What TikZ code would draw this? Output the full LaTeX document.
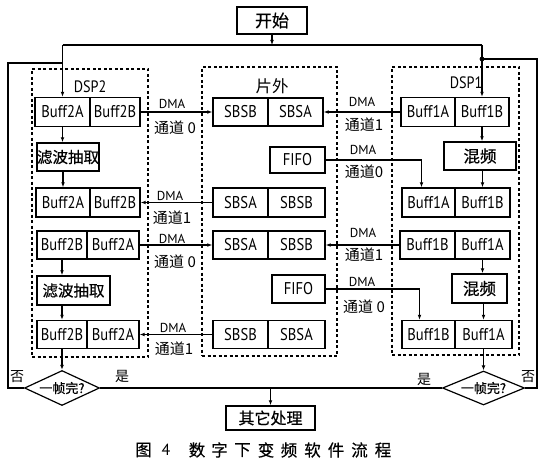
\documentclass[tikz,border=0pt]{standalone}
\usepackage{fontspec}
\setmainfont{PT Sans}
\newfontfamily\cjk{Noto Sans CJK SC}
\newfontfamily\cjkb[FakeBold=0.6]{Noto Sans CJK SC}
\newfontfamily\cjkc[FakeBold=0.4]{Noto Sans CJK SC}
\newfontfamily\nar[FakeStretch=0.86]{PT Sans}
\usetikzlibrary{arrows.meta,shapes.geometric}
\begin{document}
\begin{tikzpicture}[x=1pt,y=-1pt,
  cell/.style={draw,line width=1.4pt,inner sep=0pt,font=\nar\fontsize{17}{17}\selectfont},
  proc/.style={draw,line width=1.5pt,inner sep=0pt,font=\cjkb\fontsize{15.5}{15.5}\selectfont},
  grp/.style={draw,dash pattern=on 3pt off 2.5pt,line width=1.1pt,inner sep=0pt},
  arr/.style={line width=1.2pt,-{Latex[length=5pt,width=3.8pt]}},
  ln/.style={line width=1.2pt},
  dma/.style={font=\fontsize{13}{13}\selectfont,inner sep=0pt},
  ch/.style={font=\cjk\fontsize{15}{15}\selectfont,inner sep=0pt},
  lbl/.style={font=\cjk\fontsize{14}{14}\selectfont,inner sep=0pt},
  grpl/.style={font=\nar\fontsize{16.5}{16.5}\selectfont,inner sep=0pt},
  dec/.style={diamond,draw,line width=1.2pt,inner sep=0pt,aspect=2.1,font=\cjkb\fontsize{13}{13}\selectfont},
  captxt/.style={font=\cjkc\fontsize{16.5}{16.5}\selectfont,inner sep=0pt}
]
\useasboundingbox[fill=white] (0,0) rectangle (545,468);

% groups
\node[grp,minimum width=116pt,minimum height=288pt] (G2) at (90,213) {};
\node[grp,minimum width=135pt,minimum height=289pt] (GO) at (269.5,211.5) {};
\node[grp,minimum width=127pt,minimum height=288pt] (G1) at (455.5,211) {};
\node[grpl] (G2l) at (90,87) {DSP2};
\node[lbl,font=\cjk\fontsize{16.5}{16.5}\selectfont] (GOl) at (272,86) {片外};
\node[grpl] (G1l) at (466,83) {DSP1};

% start / end
\node[proc,minimum width=70pt,minimum height=27pt,font=\cjkb\fontsize{17}{17}\selectfont] (S) at (272,20.5) {开始};
\node[proc,minimum width=89pt,minimum height=24pt,font=\cjkb\fontsize{16}{16}\selectfont] (E) at (270.5,418) {其它处理};

% left column
\node[cell,minimum width=55pt,minimum height=29pt] (L1a) at (62.5,112) {Buff2A};
\node[cell,minimum width=50pt,minimum height=29pt] (L1b) at (115,112) {Buff2B};
\node[proc,minimum width=62pt,minimum height=28pt] (LF1) at (68,157) {滤波抽取};
\node[cell,minimum width=54pt,minimum height=29pt] (L2a) at (63,202.5) {Buff2A};
\node[cell,minimum width=50pt,minimum height=29pt] (L2b) at (115,202.5) {Buff2B};
\node[cell,minimum width=50pt,minimum height=28pt] (L3a) at (62,245) {Buff2B};
\node[cell,minimum width=52pt,minimum height=28pt] (L3b) at (113,245) {Buff2A};
\node[proc,minimum width=73pt,minimum height=29pt] (LF2) at (73.5,290.5) {滤波抽取};
\node[cell,minimum width=50pt,minimum height=28pt] (L4a) at (62,334.5) {Buff2B};
\node[cell,minimum width=52pt,minimum height=28pt] (L4b) at (113,334.5) {Buff2A};

% middle column
\node[cell,minimum width=55pt,minimum height=28pt] (M1a) at (240.5,112) {SBSB};
\node[cell,minimum width=55pt,minimum height=28pt] (M1b) at (295.5,112) {SBSA};
\node[cell,minimum width=55pt,minimum height=26pt] (MF1) at (297.5,160) {FIFO};
\node[cell,minimum width=55pt,minimum height=29pt] (M2a) at (240.5,202.5) {SBSA};
\node[cell,minimum width=57pt,minimum height=29pt] (M2b) at (296.5,202.5) {SBSB};
\node[cell,minimum width=55pt,minimum height=28pt] (M3a) at (240.5,245) {SBSA};
\node[cell,minimum width=57pt,minimum height=28pt] (M3b) at (296.5,245) {SBSB};
\node[cell,minimum width=53pt,minimum height=28pt] (MF2) at (298.5,289) {FIFO};
\node[cell,minimum width=55pt,minimum height=28pt] (M4a) at (240.5,334.5) {SBSB};
\node[cell,minimum width=57pt,minimum height=28pt] (M4b) at (296.5,334.5) {SBSA};

% right column
\node[cell,minimum width=54pt,minimum height=29pt] (R1a) at (428,112) {Buff1A};
\node[cell,minimum width=54pt,minimum height=29pt] (R1b) at (482,112) {Buff1B};
\node[proc,minimum width=72pt,minimum height=28pt,font=\cjkb\fontsize{16.5}{16.5}\selectfont] (RM1) at (480,156) {混频};
\node[cell,minimum width=53pt,minimum height=29pt] (R2a) at (428.5,202.5) {Buff1A};
\node[cell,minimum width=55pt,minimum height=29pt] (R2b) at (482.5,202.5) {Buff1B};
\node[cell,minimum width=55pt,minimum height=28pt] (R3a) at (427.5,245) {Buff1B};
\node[cell,minimum width=55pt,minimum height=28pt] (R3b) at (482.5,245) {Buff1A};
\node[proc,minimum width=55pt,minimum height=29pt,font=\cjkb\fontsize{16.5}{16.5}\selectfont] (RM2) at (479.5,288.5) {混频};
\node[cell,minimum width=53pt,minimum height=28pt] (R4a) at (428.5,334.5) {Buff1B};
\node[cell,minimum width=57pt,minimum height=28pt] (R4b) at (483.5,334.5) {Buff1A};

% decisions
\node[dec,minimum width=75pt,minimum height=35pt] (LD) at (62,388) {一帧完?};
\node[dec,minimum width=82pt,minimum height=34pt] (RD) at (483.5,388) {一帧完?};

% top distribution
\coordinate (topL) at (L1a.north |- 0,45);
\coordinate (topR) at (R1b.north |- 0,45);
\draw[ln] (topL) -- (topR);
\draw[arr] (S.south) -- (S.south |- topL);
\draw[arr] (topL) -- (L1a.north);
\draw[arr] (topR) -- (R1b.north);

% loops
\coordinate (jL) at (L1a.north |- 0,63);
\coordinate (jR) at (R1b.north |- 0,59);
\draw[ln] (LD.west) -- (8,388) -- (8,63) -- (jL);
\draw[ln] (RD.east) -- (537,388) -- (537,59) -- (jR);
\fill (jR) circle (2.4pt);

% bottom
\draw[ln] (LD.east) -- (RD.west);
\coordinate (jE) at (E.north |- LD.east);
\draw[arr] (jE) -- (E.north);
\node[lbl] (nL) at (17,377) {否};
\node[lbl] (yL) at (122,376) {是};
\node[lbl] (yR) at (424,379) {是};
\node[lbl] (nR) at (528,377) {否};

% left vertical flow
\draw[arr] (L1a.south) -- (L1a.south |- LF1.north);
\draw[arr] (L2a.north |- LF1.south) -- (L2a.north);
\draw[arr] (L3a.south) -- (L3a.south |- LF2.north);
\draw[arr] (L4a.north |- LF2.south) -- (L4a.north);
\draw[arr] (L4a.south) -- (LD.north);

% right vertical flow
\draw[arr] (R1b.south) -- (R1b.south |- RM1.north);
\draw[arr] (R2b.north |- RM1.south) -- (R2b.north);
\draw[arr] (R3b.south) -- (R3b.south |- RM2.north);
\draw[arr] (R4b.north |- RM2.south) -- (R4b.north);
\draw[arr] (R4b.south) -- (RD.north);

% DMA transfers
\draw[arr] (L1b.east) -- (M1a.west);
\draw[arr] (M2a.west) -- (L2b.east);
\draw[arr] (L3b.east) -- (M3a.west);
\draw[arr] (M4a.west) -- (L4b.east);
\draw[arr] (R1a.west) -- (M1b.east);
\draw[arr] (MF1.east) -| ([xshift=-7pt]R2a.north);
\draw[arr] (R3a.west) -- (M3b.east);
\draw[arr] (MF2.east) -| ([xshift=-9pt]R4a.north);

% DMA labels
\node[dma] (d1) at (172,104) {DMA};
\node[ch] (c1) at (175,128) {通道 0};
\node[dma] (d2) at (170,196) {DMA};
\node[ch] (c2) at (172,218) {通道1};
\node[dma] (d3) at (172,239) {DMA};
\node[ch] (c3) at (175,262) {通道 0};
\node[dma] (d4) at (173,328) {DMA};
\node[ch] (c4) at (174,349) {通道1};
\node[dma] (d5) at (362,102) {DMA};
\node[ch] (c5) at (364,125) {通道1};
\node[dma] (d6) at (363,150) {DMA};
\node[ch] (c6) at (364,172) {通道0};
\node[dma] (d7) at (363,233) {DMA};
\node[ch] (c7) at (364,255) {通道1};
\node[dma] (d8) at (362,282) {DMA};
\node[ch] (c8) at (364,307) {通道 0};

% caption
\node[captxt] (k0) at (143.5,450) {图};
\node[captxt,font=\fontsize{16}{16}\selectfont] (k1) at (166,450) {4};
\node[captxt] (k2) at (197,450) {数};
\node[captxt] (k3) at (219.5,450) {字};
\node[captxt] (k4) at (242.5,450) {下};
\node[captxt] (k5) at (266,450) {变};
\node[captxt] (k6) at (289,450) {频};
\node[captxt] (k7) at (312.5,450) {软};
\node[captxt] (k8) at (336,450) {件};
\node[captxt] (k9) at (359.5,450) {流};
\node[captxt] (k10) at (383,450) {程};
\end{tikzpicture}
\end{document}
